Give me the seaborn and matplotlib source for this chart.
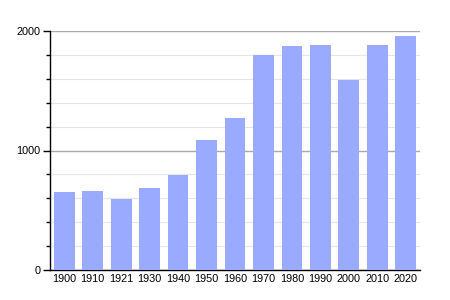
import matplotlib
matplotlib.use("Agg")
import matplotlib.pyplot as plt
from matplotlib.ticker import MultipleLocator
import seaborn as sns
import pandas as pd

years = ["1900", "1910", "1921", "1930", "1940", "1950", "1960", "1970", "1980", "1990", "2000", "2010", "2020"]
population = [650, 661, 594, 686, 795, 1088, 1272, 1802, 1874, 1883, 1590, 1883, 1958]
y_ticks = [0, 1000, 2000]

df = pd.DataFrame({"year": years, "pop": population})

sns.set_theme(style="white")
plt.rcParams['font.family'] = ['Liberation Sans', 'DejaVu Sans']

fig = plt.figure(figsize=(4.5, 3), dpi=100)
ax = fig.add_axes([50/450, 1-270/300, 370/450, (270-31)/300])

sns.barplot(data=df, x="year", y="pop", color="#99aaff", saturation=1, width=0.73,
            linewidth=0, edgecolor="none", ax=ax, zorder=3)

ax.set_ylim(0, 2000)
ax.set_xlim(-0.5, len(years) - 0.5)
ax.set_yticks(y_ticks)
ax.set_yticklabels([str(v) for v in y_ticks])
ax.yaxis.set_minor_locator(MultipleLocator(200))
ax.grid(axis="y", which="major", color="#aaaaaa", linewidth=1, zorder=0)
ax.grid(axis="y", which="minor", color="#e6e6e6", linewidth=0.8, zorder=0)
ax.set_axisbelow(True)

for s in ["top", "right"]:
    ax.spines[s].set_visible(False)
for s in ["left", "bottom"]:
    ax.spines[s].set_color("black")
    ax.spines[s].set_linewidth(1)

ax.tick_params(axis="y", which="major", left=True, length=5, width=1, color="black",
               labelsize=7.8, labelcolor="black", pad=2)
ax.tick_params(axis="y", which="minor", left=True, length=3, width=1, color="black")
ax.tick_params(axis="x", bottom=False, length=0, labelsize=7.8, labelcolor="black", pad=3)
ax.set_xlabel("")
ax.set_ylabel("")

fig.savefig("out.png", dpi=100)
